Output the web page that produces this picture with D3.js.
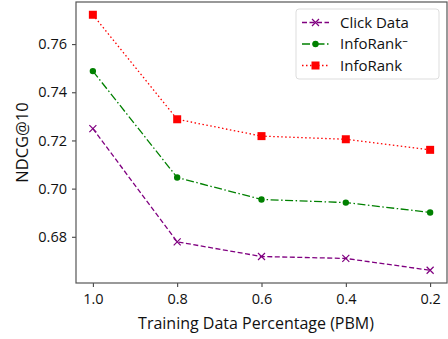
<!DOCTYPE html>
<html>
<head>
<meta charset="utf-8">
<script src="https://cdn.jsdelivr.net/npm/d3@7"></script>
<style>
  body { margin: 0; background: #fff; }
  text { font-family: "Open Sans", "Noto Sans", sans-serif; }
</style>
</head>
<body>
<div id="chart"></div>
<script>
const percentages = [1.0, 0.8, 0.6, 0.4, 0.2];
const clickData = [0.7249, 0.6779, 0.6718, 0.6710, 0.6661];
const infoRankMinus = [0.7488, 0.7046, 0.6955, 0.6942, 0.6901];
const infoRank = [0.7722, 0.7288, 0.7218, 0.7205, 0.7161];
const yTicks = [0.68, 0.70, 0.72, 0.74, 0.76];

const W = 448, H = 339;
const margin = { top: 2, right: 1, bottom: 56, left: 76 };
const width = W - margin.left - margin.right;
const height = H - margin.top - margin.bottom;

const svg = d3.select('#chart').append('svg')
  .attr('width', W)
  .attr('height', H);

const g = svg.append('g')
  .attr('transform', `translate(${margin.left}, ${margin.top})`);

const xScale = d3.scaleLinear().domain([1.04, 0.16]).range([0, width]);
const yScale = d3.scaleLinear().domain([0.6608, 0.7775]).range([height, 0]);

// axes
const xAxis = g.append('g')
  .attr('transform', `translate(0, ${height})`)
  .call(d3.axisBottom(xScale).tickValues(percentages).tickFormat(d3.format('.1f')).tickSize(4).tickPadding(4));
const yAxis = g.append('g')
  .call(d3.axisLeft(yScale).tickValues(yTicks).tickFormat(d3.format('.2f')).tickSize(4).tickPadding(5));

[xAxis, yAxis].forEach(a => {
  a.select('.domain').remove();
  a.selectAll('line').attr('stroke', '#333').attr('stroke-width', 1);
  a.selectAll('text').attr('fill', '#111').style('font-size', '14.5px')
    .style('font-family', '"Open Sans", "Noto Sans", sans-serif');
});
xAxis.selectAll('text').attr('dy', '0.9em');

// frame
g.append('rect')
  .attr('width', width).attr('height', height)
  .attr('fill', 'none').attr('stroke', '#555').attr('stroke-width', 1.2);

const line = d3.line()
  .x((d, i) => xScale(percentages[i]))
  .y(d => yScale(d));

const series = [
  { name: 'Click Data', values: clickData, color: '#800080', dash: '5,2.5', marker: 'x' },
  { name: 'InfoRank', sup: '\u2013', values: infoRankMinus, color: '#008000', dash: '8,2.5,1.5,2.5', marker: 'dot' },
  { name: 'InfoRank', values: infoRank, color: '#ff0000', dash: '1.5,2.5', marker: 'square' }
];

function drawMarker(sel, s, x, y) {
  if (s.marker === 'x') {
    const r = 3.5;
    sel.append('path')
      .attr('d', `M${x - r},${y - r}L${x + r},${y + r}M${x - r},${y + r}L${x + r},${y - r}`)
      .attr('stroke', s.color).attr('stroke-width', 1.2);
  } else if (s.marker === 'dot') {
    sel.append('path')
      .attr('d', d3.symbol().type(d3.symbolCircle).size(32)())
      .attr('transform', `translate(${x},${y})`)
      .attr('fill', s.color);
  } else {
    sel.append('rect')
      .attr('x', x - 4).attr('y', y - 4).attr('width', 8).attr('height', 8)
      .attr('fill', s.color);
  }
}

series.forEach(s => {
  g.append('path')
    .datum(s.values)
    .attr('fill', 'none')
    .attr('stroke', s.color)
    .attr('stroke-width', 1.3)
    .attr('stroke-dasharray', s.dash)
    .attr('d', line);
  const mg = g.append('g');
  s.values.forEach((v, i) => drawMarker(mg, s, xScale(percentages[i]), yScale(v)));
});

// axis labels
svg.append('text')
  .attr('x', 256).attr('y', 329)
  .attr('text-anchor', 'middle')
  .style('font-size', '16px').attr('fill', '#111')
  .text('Training Data Percentage (PBM)');

svg.append('text')
  .attr('transform', `translate(28, ${margin.top + height / 2}) rotate(-90)`)
  .attr('text-anchor', 'middle')
  .style('font-size', '16.5px').attr('fill', '#111')
  .text('NDCG@10');

// legend
const legend = svg.append('g').attr('transform', 'translate(296, 9)');
legend.append('rect')
  .attr('width', 143).attr('height', 70).attr('rx', 3)
  .attr('fill', '#fff').attr('fill-opacity', 0.8)
  .attr('stroke', '#ddd').attr('stroke-width', 1);

series.forEach((s, i) => {
  const y = 13.5 + i * 21.5;
  legend.append('line')
    .attr('x1', 6).attr('x2', 33).attr('y1', y).attr('y2', y)
    .attr('stroke', s.color).attr('stroke-width', 1.3)
    .attr('stroke-dasharray', s.dash);
  drawMarker(legend, s, 19.5, y);
  const t = legend.append('text')
    .attr('x', 44).attr('y', y).attr('dy', '0.35em')
    .style('font-size', '15px').attr('fill', '#111')
    .text(s.name);
  if (s.sup) {
    t.append('tspan').attr('dy', '-0.45em').style('font-size', '11px').text(s.sup);
  }
});
</script>
</body>
</html>
